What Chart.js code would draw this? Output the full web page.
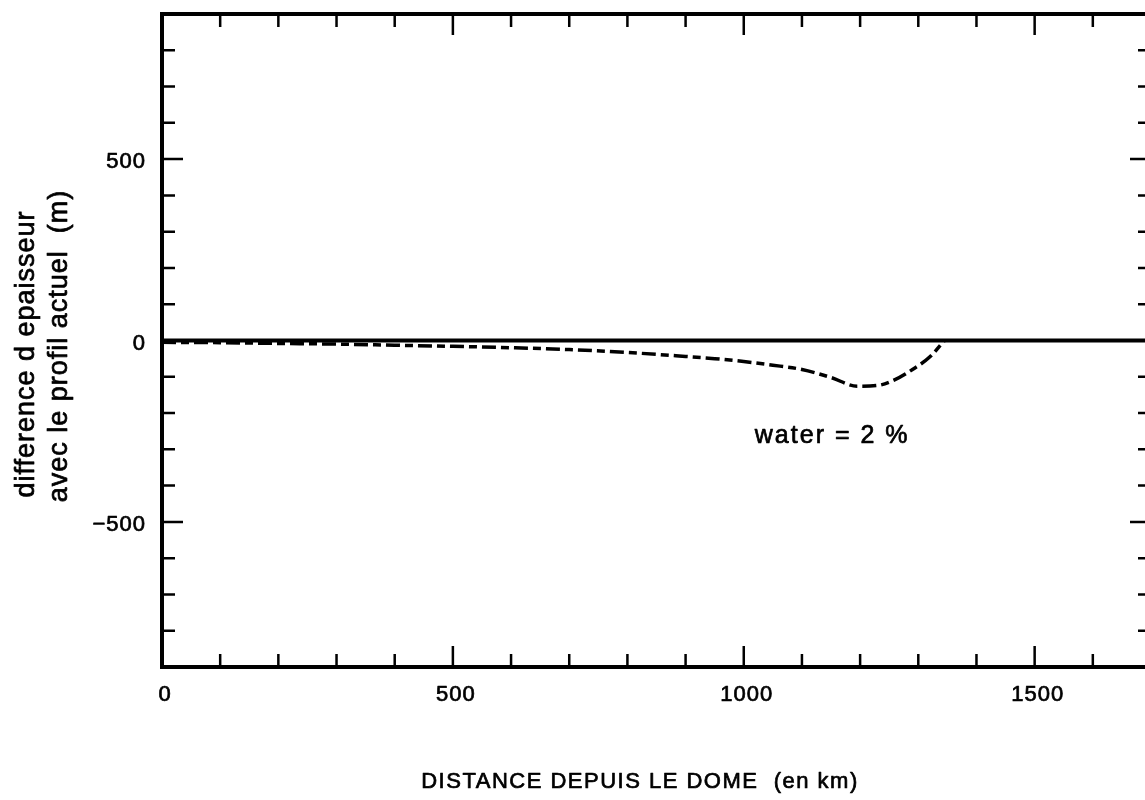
<!DOCTYPE html>
<html>
<head>
<meta charset="utf-8">
<script src="https://cdn.jsdelivr.net/npm/chart.js@4/dist/chart.umd.min.js"></script>
<style>
  html, body { margin: 0; padding: 0; background: #fff; overflow: hidden; }
  canvas { display: block; }
</style>
</head>
<body>
<canvas id="profileChart" width="1160" height="800"></canvas>
<script>
// distance from the dome (km) and thickness difference (m), water = 2 %
const distanceKm = [0, 100, 200, 300, 400, 500, 600, 700, 800, 900, 950, 1000, 1050, 1100, 1150, 1195, 1230, 1260, 1290, 1320, 1345];
const waterDiff = [-5, -6, -8, -10, -13, -16, -20, -25, -33, -44, -50, -58, -68, -80, -102, -126, -124, -108, -80, -45, 0];

// reference line (present profile)
const refKm = [0, 1700];
const refDiff = [0, 0];

const xTickLabels = [0, 500, 1000, 1500];
const yTickLabels = [500, 0, -500];

function toPoints(xs, ys) {
  return xs.map((x, i) => ({ x: x, y: ys[i] }));
}

// scanned text looks heavier, so fill and lightly stroke it
function heavyText(ctx, text, x, y) {
  ctx.fillText(text, x, y);
  ctx.strokeText(text, x, y);
}

/*
  frame, inward ticks and all text are drawn here
*/
const framePlugin = {
  id: "frame",
  afterDatasetsDraw(chart) {
    const ctx = chart.ctx;
    const xs = chart.scales.x;
    const ys = chart.scales.y;
    const a = chart.chartArea;

    ctx.save();
    ctx.strokeStyle = "#000";
    ctx.lineWidth = 4;
    ctx.lineCap = "square";
    ctx.strokeRect(a.left, a.top, a.right - a.left, a.bottom - a.top);

    // ticks pointing into the plot
    ctx.lineWidth = 2.5;
    ctx.lineCap = "butt";
    for (let v = 100; v < 1700; v += 100) {
      const px = xs.getPixelForValue(v);
      const len = v % 500 === 0 ? 21 : 13;
      ctx.beginPath();
      ctx.moveTo(px, a.bottom);
      ctx.lineTo(px, a.bottom - len);
      ctx.moveTo(px, a.top);
      ctx.lineTo(px, a.top + len);
      ctx.stroke();
    }
    for (let v = -800; v < 900; v += 100) {
      const py = ys.getPixelForValue(v);
      const len = v % 500 === 0 ? 21 : 13;
      ctx.beginPath();
      ctx.moveTo(a.left, py);
      ctx.lineTo(a.left + len, py);
      ctx.moveTo(a.right, py);
      ctx.lineTo(a.right - len, py);
      ctx.stroke();
    }

    ctx.fillStyle = "#000";
    ctx.lineWidth = 0.7;
    ctx.lineJoin = "round";
    ctx.letterSpacing = "1px";
    ctx.font = "22px 'Liberation Sans', Arial, sans-serif";

    // x tick labels
    ctx.textAlign = "center";
    ctx.textBaseline = "middle";
    xTickLabels.forEach((v) => {
      heavyText(ctx, String(v), xs.getPixelForValue(v) + 3, 695);
    });

    // y tick labels
    ctx.textAlign = "right";
    yTickLabels.forEach((v) => {
      const t = v < 0 ? "\u2212" + Math.abs(v) : String(v);
      heavyText(ctx, t, 146, ys.getPixelForValue(v) + 3);
    });

    // x axis title
    ctx.font = "22px 'Liberation Sans', Arial, sans-serif";
    ctx.letterSpacing = "1.5px";
    ctx.textBaseline = "alphabetic";
    ctx.textAlign = "center";
    heavyText(ctx, "DISTANCE DEPUIS LE DOME  (en km)", 640, 788);

    // y axis title, two rotated lines
    ctx.font = "27px 'Liberation Sans', Arial, sans-serif";
    ctx.letterSpacing = "1px";
    ctx.save();
    ctx.translate(34, 354);
    ctx.rotate(-Math.PI / 2);
    heavyText(ctx, "difference d epaisseur", 0, 0);
    ctx.restore();
    ctx.save();
    ctx.translate(67, 346);
    ctx.rotate(-Math.PI / 2);
    heavyText(ctx, "avec le profil actuel  (m)", 0, 0);
    ctx.restore();

    // curve label
    ctx.font = "25px 'Liberation Sans', Arial, sans-serif";
    ctx.letterSpacing = "2px";
    ctx.textAlign = "left";
    heavyText(ctx, "water = 2 %", xs.getPixelForValue(1019), ys.getPixelForValue(-283));

    ctx.restore();
  },
};

const ctx = document.getElementById("profileChart").getContext("2d");

new Chart(ctx, {
  type: "line",
  data: {
    datasets: [
      {
        label: "profil actuel",
        data: toPoints(refKm, refDiff),
        borderColor: "#000",
        borderWidth: 4,
        pointRadius: 0,
        fill: false,
      },
      {
        label: "water = 2 %",
        data: toPoints(distanceKm, waterDiff),
        borderColor: "#000",
        borderWidth: 3.5,
        borderDash: [14, 5, 8, 5],
        pointRadius: 0,
        fill: false,
        cubicInterpolationMode: "monotone",
      },
    ],
  },
  options: {
    responsive: false,
    animation: false,
    layout: {
      padding: { left: 162, right: 9, top: 14, bottom: 133 },
    },
    plugins: {
      legend: { display: false },
      tooltip: { enabled: false },
    },
    scales: {
      x: { type: "linear", min: 0, max: 1700, display: false },
      y: { type: "linear", min: -900, max: 900, display: false },
    },
  },
  plugins: [framePlugin],
});
</script>
</body>
</html>
